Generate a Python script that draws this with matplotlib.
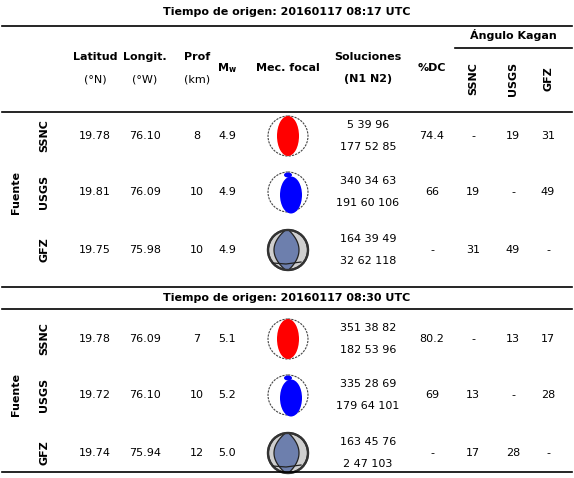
import matplotlib
matplotlib.use("Agg")
import matplotlib.pyplot as plt
from matplotlib.patches import Circle, Ellipse, Polygon
import numpy as np

titles = ["Tiempo de origen: 20160117 08:17 UTC", "Tiempo de origen: 20160117 08:30 UTC"]
sources = ["SSNC", "USGS", "GFZ"]
lat = [["19.78", "19.81", "19.75"], ["19.78", "19.72", "19.74"]]
lon = [["76.10", "76.09", "75.98"], ["76.09", "76.10", "75.94"]]
prof = [["8", "10", "10"], ["7", "10", "12"]]
mw = [["4.9", "4.9", "4.9"], ["5.1", "5.2", "5.0"]]
sol1 = [["5 39 96", "340 34 63", "164 39 49"], ["351 38 82", "335 28 69", "163 45 76"]]
sol2 = [["177 52 85", "191 60 106", "32 62 118"], ["182 53 96", "179 64 101", "2 47 103"]]
dc = [["74.4", "66", "-"], ["80.2", "69", "-"]]
kagan = [[["-", "19", "31"], ["19", "-", "49"], ["31", "49", "-"]],
         [["-", "13", "17"], ["13", "-", "28"], ["17", "28", "-"]]]
ball_color = ["red", "blue", "gfz"]

fig = plt.figure(figsize=(5.74, 4.78), dpi=100)
ax = fig.add_axes([0, 0, 1, 1])
ax.set_xlim(0, 574); ax.set_ylim(478, 0); ax.axis("off")
fs = 8
def hl(y, x0=2, x1=572, lw=1.2):
    ax.plot([x0, x1], [y, y], color="black", lw=lw)

def ball(cx, cy, kind):
    r = 20
    if kind == "gfz":
        ax.add_patch(Circle((cx, cy), r, fc="#cfcfcf", ec="#333333", lw=1.6))
        t = np.linspace(-1, 1, 40)
        yy = cy + r * t * 0.98
        left = cx - 3 - 11 * (1 - t**2)
        right = cx + 1 + 10 * (1 - t**2)
        ax.add_patch(Polygon(np.c_[np.r_[left, right[::-1]], np.r_[yy, yy[::-1]]],
                             fc="#6d7fad", ec="#222", lw=0.9))
        ax.plot([cx - 15, cx - 2, cx + 13], [cy + 13, cy + 14, cy + 12], color="#222", lw=0.9)
        ax.add_patch(Circle((cx, cy), r, fc="none", ec="#333333", lw=1.6))
    else:
        ax.add_patch(Circle((cx, cy), r, fc="white", ec="#444444", lw=0.8, ls=(0, (2, 1))))
        if kind == "red":
            ax.add_patch(Ellipse((cx, cy), 22, 40, fc="red", ec="none"))
        else:
            ax.add_patch(Ellipse((cx + 3, cy + 3), 22, 37, fc="blue", ec="none"))
            ax.add_patch(Ellipse((cx, cy - 17), 8, 5, fc="blue", ec="none"))

headers = [(95, "Latitud", "(°N)"), (145, "Longit.", "(°W)"), (197, "Prof", "(km)")]
blocks = [(0, 12, 26), (1, 298, 309)]
rows_y = [[136, 192, 250], [339, 395, 453]]
cols = dict(lat=95, lon=145, prof=197, mw=227, mec=288, sol=368, dc=432, k=[473, 513, 548])

for b, ty, ly in blocks:
    ax.text(287, ty, titles[b], ha="center", va="center", fontsize=fs, weight="bold")
    hl(ly)
    if b == 1:
        hl(287)
    ry = rows_y[b]
    ax.text(16, ry[1], "Fuente", rotation=90, ha="center", va="center", fontsize=fs, weight="bold")
    for i, s in enumerate(sources):
        y = ry[i]
        ax.text(44, y, s, rotation=90, ha="center", va="center", fontsize=fs, weight="bold")
        ax.text(cols["lat"], y, lat[b][i], ha="center", va="center", fontsize=fs)
        ax.text(cols["lon"], y, lon[b][i], ha="center", va="center", fontsize=fs)
        ax.text(cols["prof"], y, prof[b][i], ha="center", va="center", fontsize=fs)
        ax.text(cols["mw"], y, mw[b][i], ha="center", va="center", fontsize=fs)
        ball(cols["mec"], y, ball_color[i])
        ax.text(cols["sol"], y - 11, sol1[b][i], ha="center", va="center", fontsize=fs)
        ax.text(cols["sol"], y + 11, sol2[b][i], ha="center", va="center", fontsize=fs)
        ax.text(cols["dc"], y, dc[b][i], ha="center", va="center", fontsize=fs)
        for j in range(3):
            ax.text(cols["k"][j], y, kagan[b][i][j], ha="center", va="center", fontsize=fs)

for x, a, u in headers:
    ax.text(x, 57, a, ha="center", va="center", fontsize=fs, weight="bold")
    ax.text(x, 79, u, ha="center", va="center", fontsize=fs)
ax.text(227, 68, r"$\mathbf{M_w}$", ha="center", va="center", fontsize=fs)
ax.text(288, 68, "Mec. focal", ha="center", va="center", fontsize=fs, weight="bold")
ax.text(368, 57, "Soluciones", ha="center", va="center", fontsize=fs, weight="bold")
ax.text(368, 79, "(N1 N2)", ha="center", va="center", fontsize=fs, weight="bold")
ax.text(432, 68, "%DC", ha="center", va="center", fontsize=fs, weight="bold")
ax.text(513, 35, "Ángulo Kagan", ha="center", va="center", fontsize=fs, weight="bold")
hl(48, 455, 572)
for x, s in zip(cols["k"], sources):
    ax.text(x, 79, s, rotation=90, ha="center", va="center", fontsize=fs, weight="bold")
hl(112)
hl(472)

fig.savefig("out.png", dpi=100)
